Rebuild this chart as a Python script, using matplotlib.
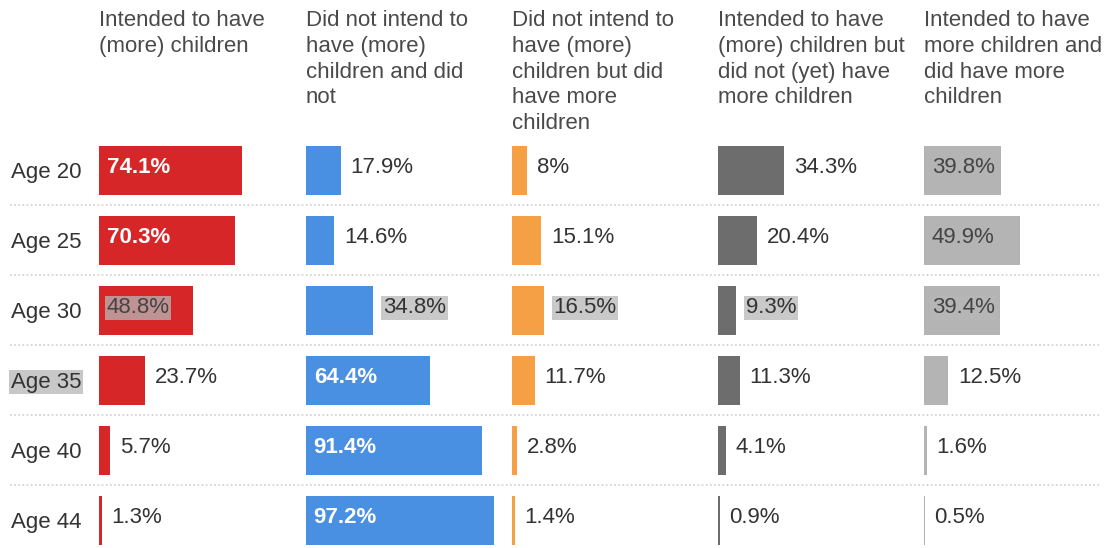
import matplotlib
matplotlib.use("Agg")
import matplotlib.pyplot as plt

plt.rcParams['font.family'] = ['Liberation Sans', 'DejaVu Sans']

ages = ['Age 20', 'Age 25', 'Age 30', 'Age 35', 'Age 40', 'Age 44']
headers = [
    'Intended to have\n(more) children',
    'Did not intend to\nhave (more)\nchildren and did\nnot',
    'Did not intend to\nhave (more)\nchildren but did\nhave more\nchildren',
    'Intended to have\n(more) children but\ndid not (yet) have\nmore children',
    'Intended to have\nmore children and\ndid have more\nchildren',
]
intended = [74.1, 70.3, 48.8, 23.7, 5.7, 1.3]
not_intended_did_not = [17.9, 14.6, 34.8, 64.4, 91.4, 97.2]
not_intended_but_did = [8, 15.1, 16.5, 11.7, 2.8, 1.4]
intended_did_not = [34.3, 20.4, 9.3, 11.3, 4.1, 0.9]
intended_did = [39.8, 49.9, 39.4, 12.5, 1.6, 0.5]

series = [intended, not_intended_did_not, not_intended_but_did,
          intended_did_not, intended_did]
colors = ['#d62628', '#4a90e2', '#f5a045', '#6d6d6d', '#b4b4b4']
inside_text = ['white', 'white', 'white', 'white', '#444444']
inside_bold = [True, True, True, True, False]

# grey selection highlight seen in the reference
highlighted = {(2, 0), (2, 1), (2, 2), (2, 3), (2, 4)}
highlighted_age = 3

W, H = 1110, 548
fig = plt.figure(figsize=(W / 100, H / 100), dpi=100)

top_px, bottom_px = 135, 548
row_h = 70.0
n_rows = len(ages)
y_top = -0.5
y_bot = y_top + (bottom_px - top_px) / row_h


def fy(px):
    return 1 - px / H


# background axes: separators and row labels
bg = fig.add_axes([10 / W, fy(bottom_px), 1090 / W, (bottom_px - top_px) / H])
bg.set_xlim(0, 1)
bg.set_ylim(y_bot, y_top)
bg.axis('off')
for i in range(n_rows - 1):
    bg.axhline(i + 0.5, color='#cfcfcf', lw=1.2, ls=(0, (1, 1.5)))
for i, a in enumerate(ages):
    kw = {}
    if i == highlighted_age:
        kw['bbox'] = dict(boxstyle='square,pad=0.08', fc='#c8c8c8', ec='none')
    bg.text(0.001, i + 0.03, a, ha='left', va='center', fontsize=16,
            color='#333333', **kw)

col_left = [99, 306, 512, 718, 924]
col_w = 200
xmax = col_w / 1.93

for c, (vals, left) in enumerate(zip(series, col_left)):
    fig.text(left / W, fy(10), headers[c], ha='left', va='top', fontsize=16,
             color='#4a4a4a', linespacing=1.3)
    ax = fig.add_axes([left / W, fy(bottom_px), col_w / W, (bottom_px - top_px) / H])
    ax.set_xlim(0, xmax)
    ax.set_ylim(y_bot, y_top)
    ax.axis('off')
    ax.barh(range(n_rows), vals, height=0.7, color=colors[c])
    for r, v in enumerate(vals):
        label = f'{v:g}%'
        hl = (r, c) in highlighted
        if v >= 38:
            x, col = 4, inside_text[c]
            weight = 'bold' if inside_bold[c] else 'normal'
            if hl:
                col, weight = '#444444', 'normal'
        else:
            x, col, weight = v + 5, '#333333', 'normal'
        kw = {}
        if hl:
            kw['bbox'] = dict(boxstyle='square,pad=0.08', fc='#b8b8b8',
                              ec='none', alpha=0.75)
        ax.text(x, r - 0.03, label, ha='left', va='center', fontsize=16,
                color=col, fontweight=weight, **kw)

fig.savefig('out.png', dpi=100, facecolor='white')
